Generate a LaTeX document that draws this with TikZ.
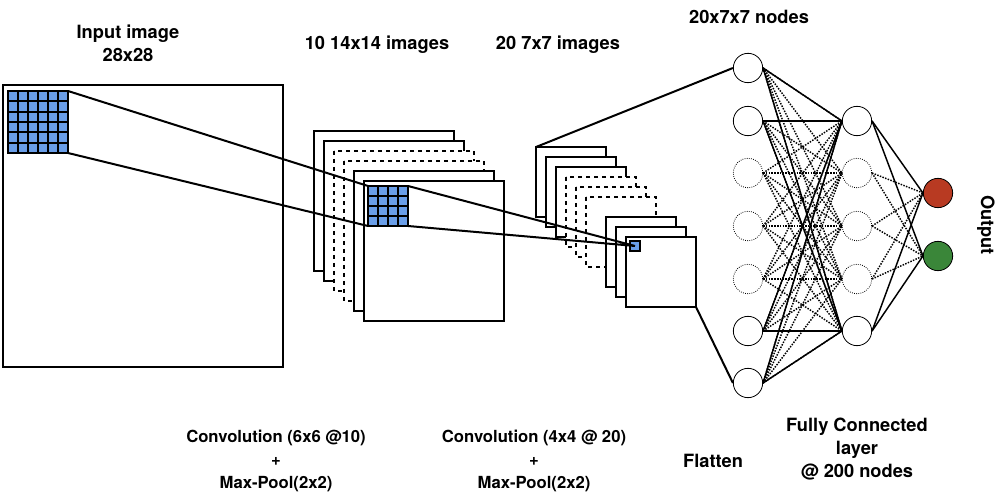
\documentclass[tikz,border=0pt]{standalone}
\usepackage{fontspec}
\setmainfont{TeX Gyre Heros}
\usetikzlibrary{calc}
\definecolor{cellblue}{HTML}{6A9EE8}
\definecolor{outred}{HTML}{B83A22}
\definecolor{outgreen}{HTML}{3A8639}

\begin{document}
\begin{tikzpicture}[x=0.75pt,y=-0.75pt,line width=1.5pt,
  every node/.style={font=\bfseries\fontsize{13.7}{17.5}\selectfont,align=center}]
\tikzstyle{frame}=[draw,fill=white,line width=1.5pt]
\tikzstyle{neuron}=[draw,circle,line width=0.6pt,fill=white,minimum size=22pt,inner sep=0pt]
\tikzstyle{ghost}=[neuron,densely dotted]
\tikzstyle{link}=[line width=1.1pt]
\tikzstyle{dlink}=[link,densely dotted]
\tikzstyle{opnote}=[font=\bfseries\fontsize{12.5}{17}\selectfont]

\useasboundingbox (0,0) rectangle (1007,498);

% input image
\draw[frame] (3,85) rectangle (283,367);
\draw[fill=cellblue] (8,91) rectangle (68,153);
\foreach \k in {1,...,5} {
  \draw ({8+10*\k},91) -- ({8+10*\k},153);
  \draw (8,{91+10.33*\k}) -- (68,{91+10.33*\k});
}
\coordinate (g1a) at (68,91);
\coordinate (g1b) at (68,153);

% first stack
\foreach \i/\s in {0/,1/,2/dashed,3/dashed,4/,5/}
  \draw[frame,\s] ({314+10*\i},{131+10*\i}) rectangle ++(140,140);
\draw[fill=cellblue] (368,186) rectangle (408,226);
\foreach \k in {1,2,3} {
  \draw ({368+10*\k},186) -- ({368+10*\k},226);
  \draw (368,{186+10*\k}) -- (408,{186+10*\k});
}
\coordinate (g2a) at (368,186);
\coordinate (g2b) at (368,226);
\coordinate (g2c) at (408,186);
\coordinate (g2d) at (408,226);
\draw (g1a) -- (g2a) (g1b) -- (g2b);

% second stack
\foreach \x/\s in {536/,546/,556/,566/dashed,576/dashed,586/dashed,606/,616/,626/}
  \draw[frame,\s] (\x,{\x-389}) rectangle ++(70,70);
\draw[fill=cellblue] (630,241) rectangle (640,251);
\coordinate (g3) at (635,246);
\draw (g2c) -- (g3) (g2d) -- (g3);
\coordinate (s2tl) at (536,147);
\coordinate (s2br) at (696,307);

% flatten layer and fully connected layer
\foreach \n/\y/\st in {1/68/neuron,2/121/neuron,3/173/ghost,4/226/ghost,5/279/ghost,6/331/neuron,7/383/neuron}
  \node[\st] (a\n) at (748,\y) {};
\foreach \n/\y/\st in {1/121/neuron,2/173/ghost,3/226/ghost,4/279/ghost,5/331/neuron}
  \node[\st] (b\n) at (857,\y) {};
\node[neuron,fill=outred] (o1) at (938,193) {};
\node[neuron,fill=outgreen] (o2) at (938,256) {};

\draw (s2tl) -- (a1.west);
\draw (s2br) -- (a7.west);

\foreach \i in {1,...,7}
  \foreach \j in {1,...,5}
    \draw[dlink] (a\i.east) -- (b\j.west);
\foreach \i in {1,2,6,7}
  \foreach \j in {1,5}
    \draw[link] (a\i.east) -- (b\j.west);
\foreach \j in {2,3,4}
  \foreach \k in {1,2}
    \draw[dlink] (b\j.east) -- (o\k.west);
\foreach \j in {1,5}
  \foreach \k in {1,2}
    \draw[link] (b\j.east) -- (o\k.west);

% labels
\node (tin) at (128,43) {Input image\\28x28};
\node (t14) at (377,45) {10 14x14 images};
\node (t7) at (558,45) {20 7x7 images};
\node (tnodes) at (749,17) {20x7x7 nodes};
\node[rotate=-90] (tout) at (986,225) {Output};
\node[opnote] (tc1) at (276,461) {Convolution (6x6 @10)\\+\\Max-Pool(2x2)};
\node[opnote] (tc2) at (534,461) {Convolution (4x4 @ 20)\\+\\Max-Pool(2x2)};
\node (tfl) at (713,461) {Flatten};
\node (tfc) at (857,449) {Fully Connected\\layer\\@ 200 nodes};
\end{tikzpicture}
\end{document}
